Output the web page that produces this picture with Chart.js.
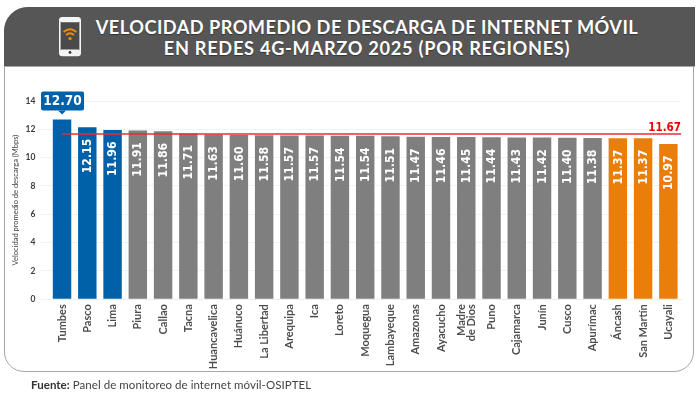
<!DOCTYPE html>
<html>
<head>
<meta charset="utf-8">
<script src="https://cdn.jsdelivr.net/npm/chart.js@4"></script>
<style>
  html, body { margin: 0; padding: 0; background: #fff; }
  #wrap { position: relative; width: 700px; height: 395px; overflow: hidden; }
  #panel {
    position: absolute; left: 4px; top: 7px; width: 688px; height: 363px;
    border: 1.5px solid #a6a6a6; border-radius: 24px 0 20px 20px; box-sizing: content-box;
  }
  #header {
    position: absolute; left: 4px; top: 7px; width: 690.5px; height: 58.5px;
    background: #565656; border-radius: 24px 0 0 0; border-bottom: 1.5px solid #a6a6a6;
  }
  #title {
    position: absolute; left: 60px; top: 17px; width: 614px; text-align: center;
    color: #fff; font: 700 18.2px/20.5px "Lato", sans-serif; letter-spacing: 0.47px;
    text-shadow: 0 1px 1px rgba(0,0,0,.4);
  }
  #title span { letter-spacing: 0.72px; }
  #phone { position: absolute; left: 58px; top: 17px; }
  #source {
    position: absolute; left: 31px; top: 377px; color: #444;
    font: 400 11.5px/16px "Lato", sans-serif; letter-spacing: 0.05px;
  }
  #source b { color: #333; }
  canvas { position: absolute; left: 0; top: 0; }
</style>
</head>
<body>
<div id="wrap">
  <div id="panel"></div>
  <div id="header"></div>
  <svg id="phone" width="24" height="40" viewBox="0 0 24 40">
    <rect x="1.8" y="0.8" width="20.4" height="37.6" rx="2.5" fill="#4a4a4a" stroke="#f4f4f4" stroke-width="1.6"/>
    <rect x="1.8" y="0.8" width="20.4" height="4.5" rx="2" fill="#f4f4f4"/>
    <rect x="1.8" y="32.4" width="20.4" height="6" rx="2" fill="#f4f4f4"/>
    <circle cx="12" cy="35.4" r="1.4" fill="#333"/>
    <path d="M5.5 15 Q12 9.5 18.5 15 M8 18 Q12 14.5 16 18" fill="none" stroke="#ee8a12" stroke-width="1.7"/>
    <circle cx="12" cy="21.5" r="1.6" fill="#ee8a12"/>
  </svg>
  <div id="title">VELOCIDAD PROMEDIO DE DESCARGA DE INTERNET MÓVIL<br><span>EN REDES 4G-MARZO 2025 (POR REGIONES)</span></div>
  <canvas id="chart" width="700" height="395"></canvas>
  <div id="source"><b>Fuente:</b> Panel de monitoreo de internet móvil-OSIPTEL</div>
</div>
<script>
/* Data */
const regions = ["Tumbes", "Pasco", "Lima", "Piura", "Callao", "Tacna", "Huancavelica", "Huánuco", "La Libertad", "Arequipa", "Ica", "Loreto", "Moquegua", "Lambayeque", "Amazonas", "Ayacucho", ["Madre", "de Dios"], "Puno", "Cajamarca", "Junín", "Cusco", "Apurímac", "Áncash", "San Martín", "Ucayali"];
const speeds = [12.70, 12.15, 11.96, 11.91, 11.86, 11.71, 11.63, 11.60, 11.58, 11.57, 11.57, 11.54, 11.54, 11.51, 11.47, 11.46, 11.45, 11.44, 11.43, 11.42, 11.40, 11.38, 11.37, 11.37, 10.97];
const barColors = ["#0061a9", "#0061a9", "#0061a9", "#7f7f7f", "#7f7f7f", "#7f7f7f", "#7f7f7f", "#7f7f7f", "#7f7f7f", "#7f7f7f", "#7f7f7f", "#7f7f7f", "#7f7f7f", "#7f7f7f", "#7f7f7f", "#7f7f7f", "#7f7f7f", "#7f7f7f", "#7f7f7f", "#7f7f7f", "#7f7f7f", "#7f7f7f", "#e97e0b", "#e97e0b", "#e97e0b"];
const average = 11.67;

/* Value labels, callout and average line */
const overlay = {
  id: "overlay",
  afterDatasetsDraw(chart) {
    const ctx = chart.ctx;
    const bars = chart.getDatasetMeta(0).data;
    const y = chart.scales.y;
    const area = chart.chartArea;

    // rotated values inside the bars
    ctx.save();
    ctx.fillStyle = "#fff";
    ctx.font = 'bold 12.2px "DejaVu Sans Condensed", "DejaVu Sans"';
    ctx.textAlign = "right";
    ctx.textBaseline = "middle";
    bars.forEach((bar, i) => {
      if (i === 0) return;
      ctx.save();
      ctx.translate(bar.x, bar.y + 11.5);
      ctx.rotate(-Math.PI / 2);
      ctx.fillText(speeds[i].toFixed(2), 0, 0.5);
      ctx.restore();
    });
    ctx.restore();

    // two line region names, chart.js does not centre these when rotated
    ctx.save();
    ctx.fillStyle = "#4d4d4d";
    ctx.font = 'bold 11px "Lato"';
    ctx.textAlign = "right";
    ctx.textBaseline = "middle";
    regions.forEach((name, i) => {
      if (!Array.isArray(name)) return;
      ctx.save();
      ctx.translate(bars[i].x, area.bottom + 5);
      ctx.rotate(-Math.PI / 2);
      name.forEach((line, n) => {
        ctx.fillText(line, 0, (n - (name.length - 1) / 2) * 10);
      });
      ctx.restore();
    });
    ctx.restore();

    // callout for the first bar
    const first = bars[0];
    const boxW = 43, boxH = 19;
    const boxX = first.x - 21, boxY = first.y - 28;
    ctx.save();
    ctx.fillStyle = "#0061a9";
    ctx.beginPath();
    ctx.roundRect(boxX, boxY, boxW, boxH, 2);
    ctx.fill();
    ctx.beginPath();
    ctx.moveTo(first.x - 4, boxY + boxH);
    ctx.lineTo(first.x, boxY + boxH + 4);
    ctx.lineTo(first.x + 4, boxY + boxH);
    ctx.fill();
    ctx.fillStyle = "#fff";
    ctx.font = 'bold 13.5px "DejaVu Sans Condensed", "DejaVu Sans"';
    ctx.textAlign = "center";
    ctx.textBaseline = "middle";
    ctx.fillText(speeds[0].toFixed(2), boxX + boxW / 2, boxY + boxH / 2 + 0.5);
    ctx.restore();

    // average line
    const avgY = y.getPixelForValue(average);
    ctx.save();
    ctx.strokeStyle = "#ee2a30";
    ctx.lineWidth = 1.4;
    ctx.beginPath();
    ctx.moveTo(first.x, avgY);
    ctx.lineTo(area.right, avgY);
    ctx.stroke();
    ctx.fillStyle = "#f00000";
    ctx.font = 'bold 11.5px "DejaVu Sans Condensed", "DejaVu Sans"';
    ctx.textAlign = "right";
    ctx.textBaseline = "bottom";
    ctx.fillText(average.toFixed(2), area.right, avgY - 0.5);
    ctx.restore();
  }
};

/* Chart */
new Chart(document.getElementById("chart"), {
  type: "bar",
  data: {
    labels: regions,
    datasets: [
      {
        data: speeds,
        backgroundColor: barColors,
        barPercentage: 0.73,
        categoryPercentage: 1
      }
    ]
  },
  plugins: [overlay],
  options: {
    responsive: false,
    animation: false,
    layout: { padding: { left: 0, top: 101, right: 19, bottom: 0 } },
    plugins: {
      legend: { display: false },
      tooltip: { enabled: false }
    },
    scales: {
      x: {
        afterFit: (scale) => { scale.height = 95.8; },
        grid: { display: false, drawTicks: false },
        border: { color: "#ececec", width: 1 },
        ticks: {
          autoSkip: false,
          minRotation: 90,
          maxRotation: 90,
          padding: 5,
          color: "#4d4d4d",
          font: { family: "Lato", size: 11, weight: "bold" },
          callback: function (value) {
            const name = regions[value];
            return Array.isArray(name) ? "" : name;
          }
        }
      },
      y: {
        min: 0,
        max: 14,
        afterFit: (scale) => { scale.width = 49.4; },
        grid: { color: "#f2f2f2", tickColor: "#f2f2f2", tickLength: 9 },
        border: { display: false },
        ticks: {
          stepSize: 2,
          padding: 5,
          color: "#3c3c3c",
          font: { family: "Lato", size: 8.5, weight: "bold" }
        },
        title: {
          display: true,
          text: "Velocidad promedio de descarga (Mbps)",
          color: "#3c3c3c",
          padding: { top: 11, bottom: 0 },
          font: { family: "Lato", size: 7.5 }
        }
      }
    }
  }
});
</script>
</body>
</html>
